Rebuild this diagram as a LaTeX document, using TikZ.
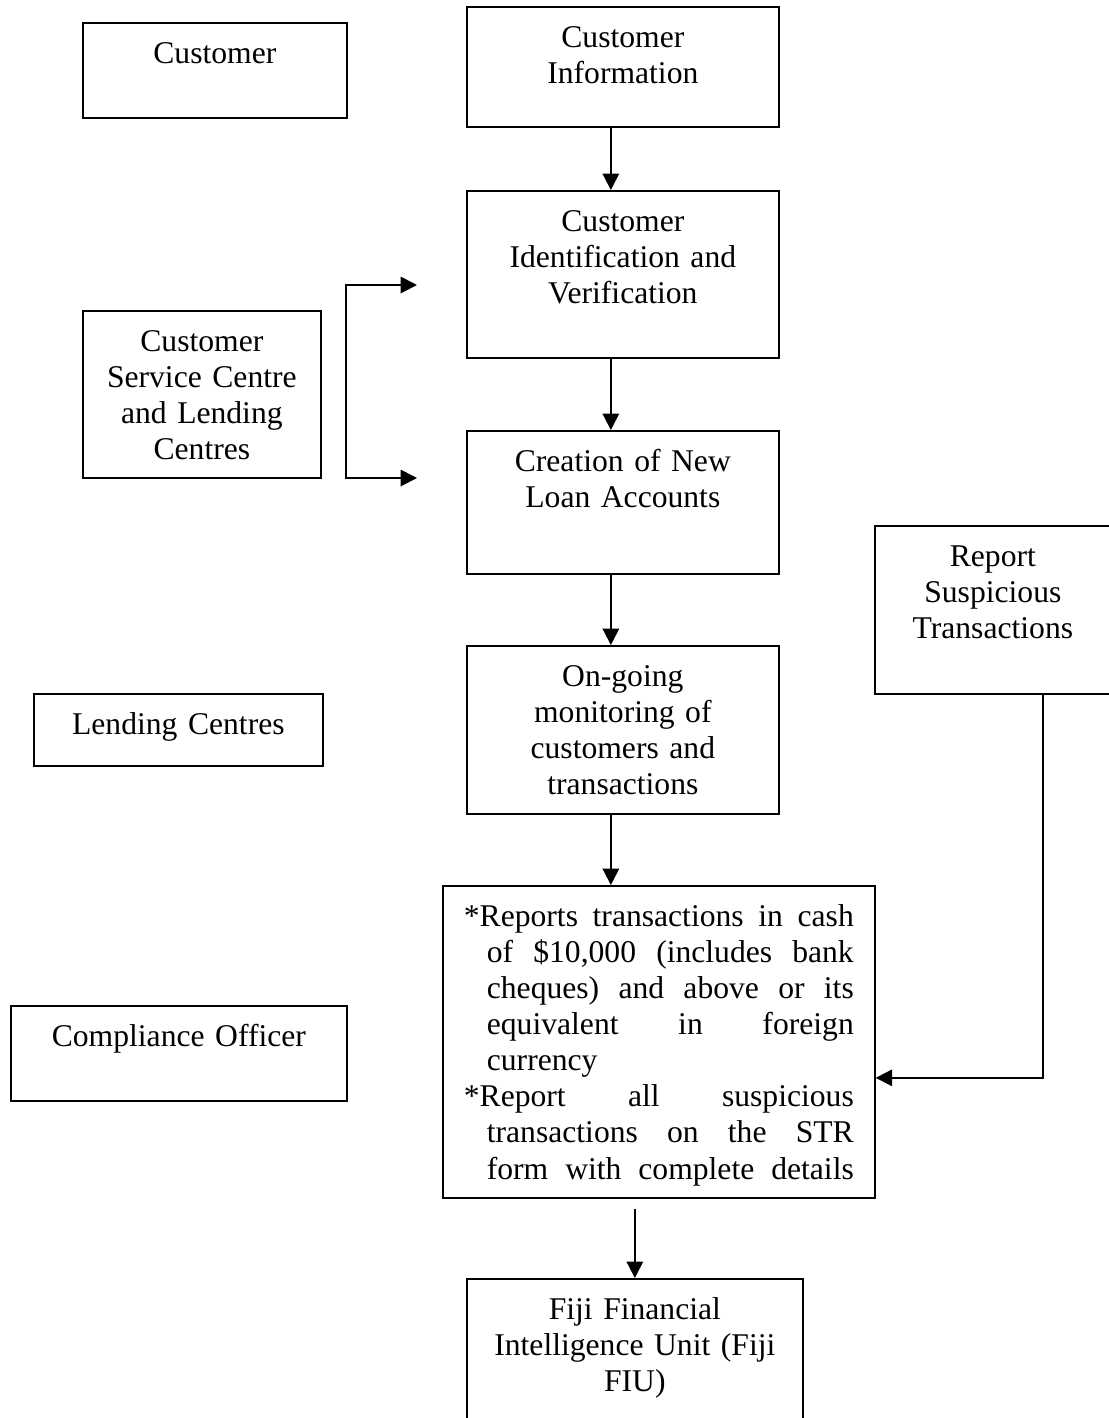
\documentclass[tikz,border=0pt]{standalone}
\usepackage{fontspec}
\setmainfont{Liberation Serif}
\usepackage{tikz}
\usetikzlibrary{arrows.meta}

\begin{document}
\begin{tikzpicture}[x=0.02cm,y=-0.02cm,
    box/.style={draw,line width=1pt,anchor=north west,align=center,inner sep=0pt,
        font=\fontsize{18}{20.5}\selectfont,text height=0.82cm},
    arr/.style={line width=1.1pt,-{Triangle[length=0.33cm,width=0.33cm]}}]
\useasboundingbox (0,0) rectangle (1109,1418);

% left column
\node[box,text width=5.28cm,text depth=1.08cm] at (82,22) (cust) {Customer};
\node[box,text width=4.76cm,text depth=2.52cm] at (82,310) (csc)
    {Customer\\Service Centre\\and Lending\\Centres};
\node[box,text width=5.78cm,text depth=0.62cm] at (33,693) (lend) {Lending Centres};
\node[box,text width=6.72cm,text depth=1.08cm] at (10,1005) (comp) {Compliance Officer};

% main column
\node[box,text width=6.24cm,text depth=1.58cm] at (466,6) (info)
    {Customer\\Information};
\node[box,text width=6.24cm,text depth=2.52cm] at (466,190) (ident)
    {Customer\\Identification and\\Verification};
\node[box,text width=6.24cm,text depth=2.04cm] at (466,430) (create)
    {Creation of New\\Loan Accounts};
\node[box,text width=6.24cm,text depth=2.54cm] at (466,645) (ongo)
    {On-going\\monitoring of\\customers and\\transactions};
\node[box,inner xsep=0.42cm,text depth=5.42cm] at (442,885) (str)
    {\parbox[t]{7.8cm}{\hangindent=0.46cm\hangafter=1
    *Reports transactions in cash\linebreak of \$10,000 (includes bank\linebreak
    cheques) and above or its\linebreak equivalent in foreign\linebreak currency\par
    \hangindent=0.46cm\hangafter=1
    *Report all suspicious\linebreak transactions on the STR\linebreak
    form with complete details\parfillskip=0pt\par}};
\node[box,text width=6.72cm,text depth=2.02cm] at (466,1278) (fiu)
    {Fiji Financial\\Intelligence Unit (Fiji\\FIU)};

% right column
\node[box,text width=4.72cm,text depth=2.54cm] at (874,525) (report)
    {Report\\Suspicious\\Transactions};

% connectors
\coordinate (brtop) at (417,285);
\coordinate (brbot) at (417,478);
\draw[arr] ([xshift=-0.24cm]info.south) -- ([xshift=-0.24cm]ident.north);
\draw[arr] ([xshift=-0.24cm]ident.south) -- ([xshift=-0.24cm]create.north);
\draw[arr] ([xshift=-0.24cm]create.south) -- ([xshift=-0.24cm]ongo.north);
\draw[arr] ([xshift=-0.24cm]ongo.south) -- ([xshift=-0.24cm]ongo.south |- str.north);
\draw[arr] ([yshift=-0.2cm]str.south -| fiu.north) -- (fiu.north);
\draw[arr,{Triangle[length=0.33cm,width=0.33cm]}-{Triangle[length=0.33cm,width=0.33cm]}]
    (brtop) -- ++(-71,0) |- (brbot);
\draw[arr] ([xshift=1cm]report.south) |- ([yshift=-0.72cm]str.east);
\end{tikzpicture}
\end{document}
